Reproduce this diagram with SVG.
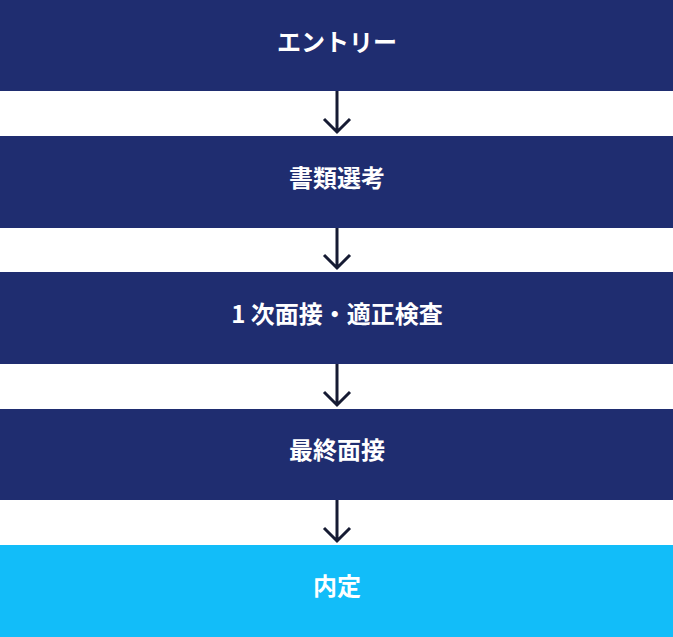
<svg xmlns="http://www.w3.org/2000/svg" width="673" height="637" viewBox="0 0 673 637">
<defs>
<style>
.box{fill:#1f2d70}
.last{fill:#12bdf9}
.t{font-family:"Noto Sans CJK JP","Noto Sans",sans-serif;font-weight:700;font-size:24px;fill:#ffffff;text-anchor:middle;dominant-baseline:central}
.c{stroke:#161b33;stroke-width:3;fill:none}
</style>
</defs>
<rect width="673" height="637" fill="#ffffff"/>
<g id="connectors">
<path class="c" d="M337 91V132M324 119L337 132L350 119"/>
<path class="c" d="M337 228V268M324 255L337 268L350 255"/>
<path class="c" d="M337 364V405M324 392L337 405L350 392"/>
<path class="c" d="M337 500V541M324 528L337 541L350 528"/>
</g>
<g id="n1"><rect class="box" x="0" y="0" width="673" height="91"/><text class="t" x="337" y="40">エントリー</text></g>
<g id="n2"><rect class="box" x="0" y="136" width="673" height="92"/><text class="t" x="337" y="176">書類選考</text></g>
<g id="n3"><rect class="box" x="0" y="272" width="673" height="92"/><text class="t" x="337" y="312">1 次面接・適正検査</text></g>
<g id="n4"><rect class="box" x="0" y="409" width="673" height="91"/><text class="t" x="337" y="448">最終面接</text></g>
<g id="n5"><rect class="last" x="0" y="545" width="673" height="92"/><text class="t" x="337" y="584">内定</text></g>
</svg>
